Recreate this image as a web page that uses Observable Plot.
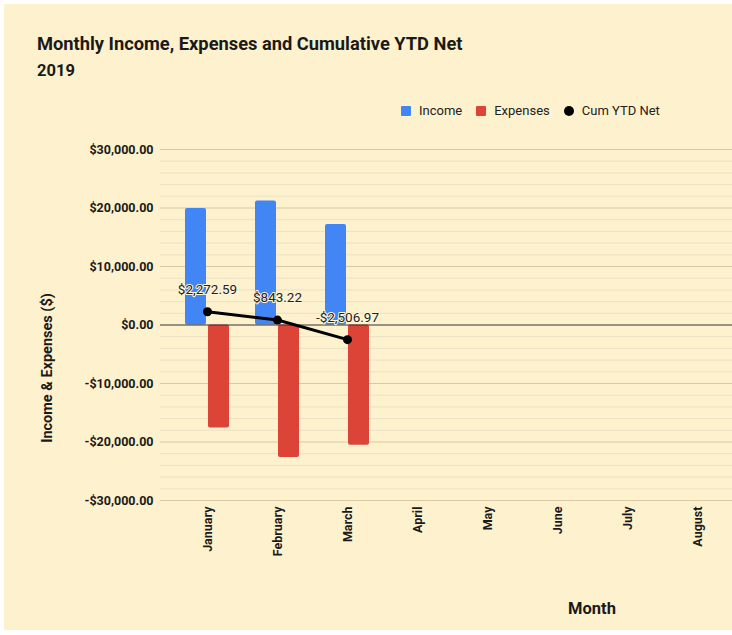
<!DOCTYPE html>
<html>
<head>
<meta charset="utf-8">
<script src="https://cdn.jsdelivr.net/npm/d3@7"></script>
<script src="https://cdn.jsdelivr.net/npm/@observablehq/plot@0.6"></script>
<style>
  html, body { margin: 0; padding: 0; background: #ffffff; }
  body { width: 732px; height: 635px; position: relative; overflow: hidden; font-family: Roboto, "Noto Sans", sans-serif; }
  #bg { position: absolute; left: 4px; top: 4px; width: 728px; height: 626px; background: #fef1cd; }
  .abs { position: absolute; white-space: nowrap; color: #1a1a1a; }
  #title { left: 37px; top: 33px; font-size: 18.3px; font-weight: 700; }
  #subtitle { left: 37px; top: 61px; font-size: 16.5px; font-weight: 700; }
  #legend { left: 401px; top: 103px; font-size: 13px; color: #222; display: flex; align-items: center; }
  .sw { display: inline-block; width: 10px; height: 10px; border-radius: 1px; margin-right: 8px; }
  .dotsw { display: inline-block; width: 10px; height: 10px; border-radius: 50%; background: #000; margin-right: 8px; }
  .item { display: flex; align-items: center; margin-right: 14px; }
  #ylabel { left: 47px; top: 368px; font-size: 14.5px; font-weight: 700; transform: translate(-50%, -50%) rotate(-90deg); }
  #xlabel { left: 592px; top: 608px; font-size: 16.5px; font-weight: 700; transform: translate(-50%, -50%); }
  #chart { position: absolute; left: 0; top: 0; }
</style>
</head>
<body>
<div id="bg"></div>
<div id="chart"></div>
<div class="abs" id="title">Monthly Income, Expenses and Cumulative YTD Net</div>
<div class="abs" id="subtitle">2019</div>
<div class="abs" id="legend">
  <span class="item"><span class="sw" style="background:#4285f4"></span>Income</span>
  <span class="item"><span class="sw" style="background:#db4437"></span>Expenses</span>
  <span class="item"><span class="dotsw"></span>Cum YTD Net</span>
</div>
<div class="abs" id="ylabel">Income &amp; Expenses ($)</div>
<div class="abs" id="xlabel">Month</div>
<script>
const months = ["January", "February", "March", "April", "May", "June", "July", "August"];
const dataMonths = ["January", "February", "March"];
const income = [19900, 21200, 17200];
const expenses = [-17627.41, -22629.37, -20550.19];
const cumNet = [2272.59, 843.22, -2506.97];
const cumLabels = ["$2,272.59", "$843.22", "-$2,506.97"];
const yTicks = [-30000, -20000, -10000, 0, 10000, 20000, 30000];

const incomeData = dataMonths.map((m, i) => ({month: m, value: income[i]}));
const expenseData = dataMonths.map((m, i) => ({month: m, value: expenses[i]}));
const netData = dataMonths.map((m, i) => ({month: m, value: cumNet[i], label: cumLabels[i]}));
const minorTicks = d3.range(-30000, 30001, 2000).filter(v => !yTicks.includes(v));
const majorNonZero = yTicks.filter(v => v !== 0);

const fmt = v => (v < 0 ? "-" : "") + "$" + d3.format(",.2f")(Math.abs(v));

const chart = Plot.plot({
  width: 732,
  height: 635,
  marginLeft: 160,
  marginRight: 0,
  marginTop: 149,
  marginBottom: 135,
  style: {background: "transparent", fontFamily: "Roboto, 'Noto Sans', sans-serif", color: "#1a1a1a"},
  x: {
    type: "band",
    domain: months,
    paddingInner: 0.371,
    paddingOuter: 0.271,
    align: 0.658,
    label: null,
    tickSize: 0,
    tickPadding: 6,
    tickRotate: -90
  },
  y: {
    domain: [-30000, 30000],
    ticks: yTicks,
    tickFormat: fmt,
    tickSize: 0,
    tickPadding: 7,
    label: null
  },
  marks: [
    Plot.ruleY(minorTicks, {stroke: "#ebe1c3", strokeWidth: 1}),
    Plot.ruleY(majorNonZero, {stroke: "#d8c9a0", strokeWidth: 1}),
    Plot.barY(incomeData, {x: "month", y: "value", fill: "#4285f4", insetRight: 23, rx: 2}),
    Plot.barY(expenseData, {x: "month", y: "value", fill: "#db4437", insetLeft: 23, rx: 2}),
    Plot.ruleY([0], {stroke: "#333333", strokeWidth: 1}),
    Plot.line(netData, {x: "month", y: "value", stroke: "#000", strokeWidth: 3}),
    Plot.dot(netData, {x: "month", y: "value", fill: "#000", r: 4.5}),
    Plot.text(netData, {x: "month", y: "value", text: "label", dy: -22, fontSize: 13.5, fill: "#222", stroke: "#fff6dc", strokeWidth: 2})
  ]
});
chart.querySelectorAll("g[aria-label='y-axis tick label'] text, g[aria-label='x-axis tick label'] text").forEach(t => {
  t.setAttribute("font-weight", "700");
  t.setAttribute("font-size", "12.5");
});
document.getElementById("chart").appendChild(chart);
</script>
</body>
</html>
